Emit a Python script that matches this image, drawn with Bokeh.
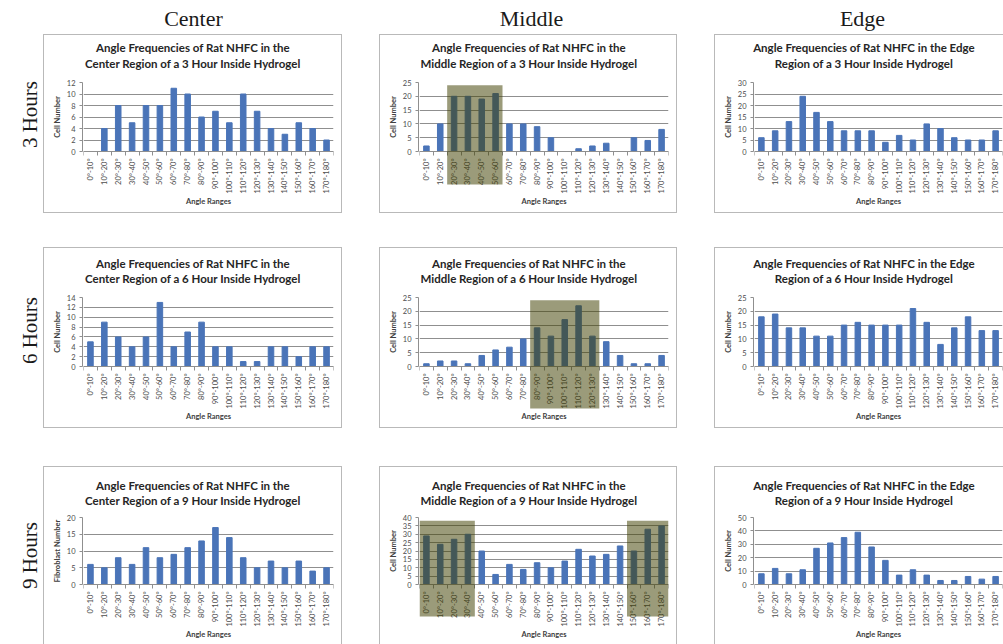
import math

from bokeh.core.properties import value
from bokeh.embed import file_html
from bokeh.layouts import column, row
from bokeh.models import BoxAnnotation, ColumnDataSource, FixedTicker, Range1d, Spacer
from bokeh.plotting import figure
from bokeh.resources import INLINE

# ---------------------------------------------------------------- data
angle_ranges = ["0°-10°", "10°-20°", "20°-30°", "30°-40°", "40°-50°", "50°-60°",
                "60°-70°", "70°-80°", "80°-90°", "90°-100°", "100°-110°", "110°-120°",
                "120°-130°", "130°-140°", "140°-150°", "150°-160°", "160°-170°", "170°-180°"]

regions = ["Center", "Middle", "Edge"]
times = ["3 Hours", "6 Hours", "9 Hours"]
hours = ["3", "6", "9"]

center_3h = [0, 4, 8, 5, 8, 8, 11, 10, 6, 7, 5, 10, 7, 4, 3, 5, 4, 2]
middle_3h = [2, 10, 20, 20, 19, 21, 10, 10, 9, 5, 0, 1, 2, 3, 0, 5, 4, 8]
edge_3h = [6, 9, 13, 24, 17, 13, 9, 9, 9, 4, 7, 5, 12, 10, 6, 5, 5, 9]

center_6h = [5, 9, 6, 4, 6, 13, 4, 7, 9, 4, 4, 1, 1, 4, 4, 2, 4, 4]
middle_6h = [1, 2, 2, 1, 4, 6, 7, 10, 14, 11, 17, 22, 11, 9, 4, 1, 1, 4]
edge_6h = [18, 19, 14, 14, 11, 11, 15, 16, 15, 15, 15, 21, 16, 8, 14, 18, 13, 13]

center_9h = [6, 5, 8, 6, 11, 8, 9, 11, 13, 17, 14, 8, 5, 7, 5, 7, 4, 5]
middle_9h = [29, 24, 27, 30, 20, 6, 12, 9, 13, 10, 14, 21, 17, 18, 23, 20, 33, 35]
edge_9h = [8, 12, 8, 11, 27, 31, 35, 39, 28, 18, 7, 11, 7, 3, 3, 6, 4, 6]

# y-axis tick values of each chart
ticks_center_3h = [0, 2, 4, 6, 8, 10, 12]
ticks_middle_3h = [0, 5, 10, 15, 20, 25]
ticks_edge_3h = [0, 5, 10, 15, 20, 25, 30]
ticks_center_6h = [0, 2, 4, 6, 8, 10, 12, 14]
ticks_middle_6h = [0, 5, 10, 15, 20, 25]
ticks_edge_6h = [0, 5, 10, 15, 20, 25]
ticks_center_9h = [0, 5, 10, 15, 20]
ticks_middle_9h = [0, 5, 10, 15, 20, 25, 30, 35, 40]
ticks_edge_9h = [0, 10, 20, 30, 40, 50]

# shaded groups of angle ranges (first index, last index, top value)
shade_middle_3h = [(2, 5, 24)]
shade_middle_6h = [(8, 12, 24)]
shade_middle_9h = [(0, 3, 38), (15, 17, 38)]

# ---------------------------------------------------------------- style
BAR = "#4A74B8"
GRID = "#8f8f8f"
BORDER = "#b9b9b9"
SANS = "Lato"
SERIF = "Liberation Serif"
SHADE = "#404000"
TICK_TXT = "#4d4d4d"
LABEL_TXT = "#404040"

positions = list(range(len(angle_ranges)))
PANEL_W = 297          # nominal chart box width
WIDTHS = [297, 296, 288]
GAP = 39
AXIS_W = 39            # strip that carries the value axis
PAD = 7                # value-axis strip starts this far above the plot top


def title_block(region, hrs, width, height, line_y):
    if region == "Edge":
        lines = ["Angle Frequencies of Rat NHFC in the Edge",
                 f"Region of a {hrs} Hour Inside Hydrogel"]
    else:
        lines = ["Angle Frequencies of Rat NHFC in the",
                 f"{region} Region of a {hrs} Hour Inside Hydrogel"]
    t = figure(width=width, height=height, output_backend="svg", toolbar_location=None,
               x_range=Range1d(0, width), y_range=Range1d(height, 0),
               x_axis_location=None, y_axis_location=None, min_border=0)
    t.grid.visible = False
    t.outline_line_color = None
    t.text(x=[PANEL_W / 2] * 2, y=line_y, text=lines,
           text_font=value(SANS), text_font_size="11.5px", text_font_style="bold",
           text_color="#262626", text_align="center", text_baseline="middle")
    return t


def value_axis(yticks, ylabel, plot_h):
    """Narrow strip holding only the value axis, spanning 0..max."""
    ymax = yticks[-1]
    below = 10
    a = figure(width=AXIS_W, height=PAD + 1 + plot_h + below, output_backend="svg",
               toolbar_location=None, x_range=Range1d(0, 1), y_range=Range1d(0, ymax),
               x_axis_location=None, min_border_left=AXIS_W - 1, min_border_right=0,
               min_border_top=PAD + 1, min_border_bottom=below,
               background_fill_color="white", border_fill_color="white")
    a.grid.visible = False
    a.outline_line_color = None
    ya = a.yaxis[0]
    ya.ticker = FixedTicker(ticks=yticks)
    ya.major_tick_in = 0
    ya.major_tick_out = 3
    ya.minor_tick_out = 0
    ya.minor_tick_in = 0
    ya.major_tick_line_color = GRID
    ya.axis_line_color = GRID
    ya.major_label_text_font = SANS
    ya.major_label_text_font_size = "7.5px"
    ya.major_label_text_color = TICK_TXT
    ya.major_label_standoff = 4
    ya.axis_label = ylabel
    ya.axis_label_text_font = SANS
    ya.axis_label_text_font_size = "7.5px"
    ya.axis_label_text_font_style = "bold"
    ya.axis_label_text_color = LABEL_TXT
    ya.axis_label_standoff = 2
    return a


def bar_chart(counts, yticks, width, height, plot_h, right_pad,
              shades=(), shade_depth=33):
    ymax = yticks[-1]
    frame_h = height - 2
    per_px = ymax / plot_h
    y_start = -(frame_h - plot_h) * per_px      # room for the axis labels under zero
    p = figure(width=width, height=height, output_backend="svg", toolbar_location=None,
               x_range=Range1d(-0.5, len(angle_ranges) - 0.5),
               y_range=Range1d(y_start, ymax), y_axis_location=None,
               min_border_left=0, min_border_right=right_pad,
               min_border_top=1, min_border_bottom=1,
               background_fill_color="white", border_fill_color="white")
    p.outline_line_color = None

    src = ColumnDataSource(dict(x=positions, count=counts))
    p.vbar(x="x", top="count", width=0.4, source=src, fill_color=BAR, line_color=BAR)

    # category axis sits at zero; labels under bars, tick marks between categories
    xa = p.xaxis[0]
    xa.fixed_location = 0
    xa.ticker = FixedTicker(ticks=positions,
                            minor_ticks=[i - 0.5 for i in range(len(angle_ranges) + 1)])
    xa.major_label_overrides = {i: lab for i, lab in zip(positions, angle_ranges)}
    xa.major_label_orientation = math.pi / 2
    xa.major_tick_in = 0
    xa.major_tick_out = 0
    xa.minor_tick_in = 0
    xa.minor_tick_out = 4
    xa.minor_tick_line_color = GRID
    xa.axis_line_color = GRID
    xa.major_label_text_font = SANS
    xa.major_label_text_font_size = "7.5px"
    xa.major_label_text_color = TICK_TXT
    xa.major_label_standoff = 3
    xa.axis_label = "Angle Ranges"
    xa.axis_label_text_font = SANS
    xa.axis_label_text_font_size = "7.5px"
    xa.axis_label_text_font_style = "bold"
    xa.axis_label_text_color = LABEL_TXT
    xa.axis_label_standoff = 0

    p.xgrid.visible = False
    p.ygrid.ticker = FixedTicker(ticks=yticks)
    p.ygrid.grid_line_color = GRID
    p.ygrid.grid_line_width = 1

    # shaded groups reaching down over the tick labels
    for first, last, top in shades:
        p.add_layout(BoxAnnotation(left=first - 0.5, right=last + 0.5, top=top,
                                   bottom=-shade_depth * per_px,
                                   fill_color=SHADE, fill_alpha=0.52, line_color=None,
                                   level="annotation"))
    return p


rows_spec = [
    # counts, y ticks, shades, shade depth px, box height, title height, title lines y, 0..max px
    ((center_3h, middle_3h, edge_3h), (ticks_center_3h, ticks_middle_3h, ticks_edge_3h),
     shade_middle_3h, 33, 177, 46, [12, 28], 69),
    ((center_6h, middle_6h, edge_6h), (ticks_center_6h, ticks_middle_6h, ticks_edge_6h),
     shade_middle_6h, 42, 179, 48, [15, 30], 69),
    ((center_9h, middle_9h, edge_9h), (ticks_center_9h, ticks_middle_9h, ticks_edge_9h),
     shade_middle_9h, 32, 177, 49, [18, 33], 67),
]

chart_rows = []
for r, (counts, ticks, shades, depth, h, th, line_y, plot_h) in enumerate(rows_spec):
    boxes = []
    for c, (region, w) in enumerate(zip(regions, WIDTHS)):
        ylabel = "Fibroblast Number" if (region == "Center" and hours[r] == "9") else "Cell Number"
        head = title_block(region, hours[r], w, th - PAD, line_y)
        axis_strip = value_axis(ticks[c], ylabel, plot_h)
        chart = bar_chart(counts[c], ticks[c], w - AXIS_W, h - th, plot_h,
                          1 if c == 2 else 8,
                          shades=shades if region == "Middle" else (), shade_depth=depth)
        body = row(axis_strip, column(Spacer(width=w - AXIS_W, height=PAD), chart, spacing=0),
                   spacing=0)
        boxes.append(column(head, body, spacing=0,
                            styles={"box-shadow": f"0 0 0 1px {BORDER}"}))
    chart_rows.append(row(boxes[0], Spacer(width=GAP, height=h), boxes[1],
                          Spacer(width=GAP, height=h), boxes[2], spacing=0))

# column headings
header = figure(width=sum(WIDTHS) + 2 * GAP, height=35, output_backend="svg",
                toolbar_location=None, x_range=Range1d(44, 1003), y_range=Range1d(35, 0),
                x_axis_location=None, y_axis_location=None, min_border=0)
header.grid.visible = False
header.outline_line_color = None
header.text(x=[193, 531, 862], y=[18, 18, 18], text=regions,
            text_font=value(SERIF), text_font_size="22px", text_color="#1a1a1a",
            text_align="center", text_baseline="middle")

# row headings
side = figure(width=44, height=644, output_backend="svg", toolbar_location=None,
              x_range=Range1d(0, 44), y_range=Range1d(644, 0),
              x_axis_location=None, y_axis_location=None, min_border=0)
side.grid.visible = False
side.outline_line_color = None
side.text(x=[29, 29, 29], y=[114, 330, 555], text=times, angle=math.pi / 2,
          text_font=value(SERIF), text_font_size="21px", text_color="#1a1a1a",
          text_align="center", text_baseline="middle")

layout = row(side, column(header, chart_rows[0], Spacer(width=10, height=36),
                          chart_rows[1], Spacer(width=10, height=40), chart_rows[2],
                          spacing=0), spacing=0)

open("out.html", "w").write(file_html(layout, INLINE))
